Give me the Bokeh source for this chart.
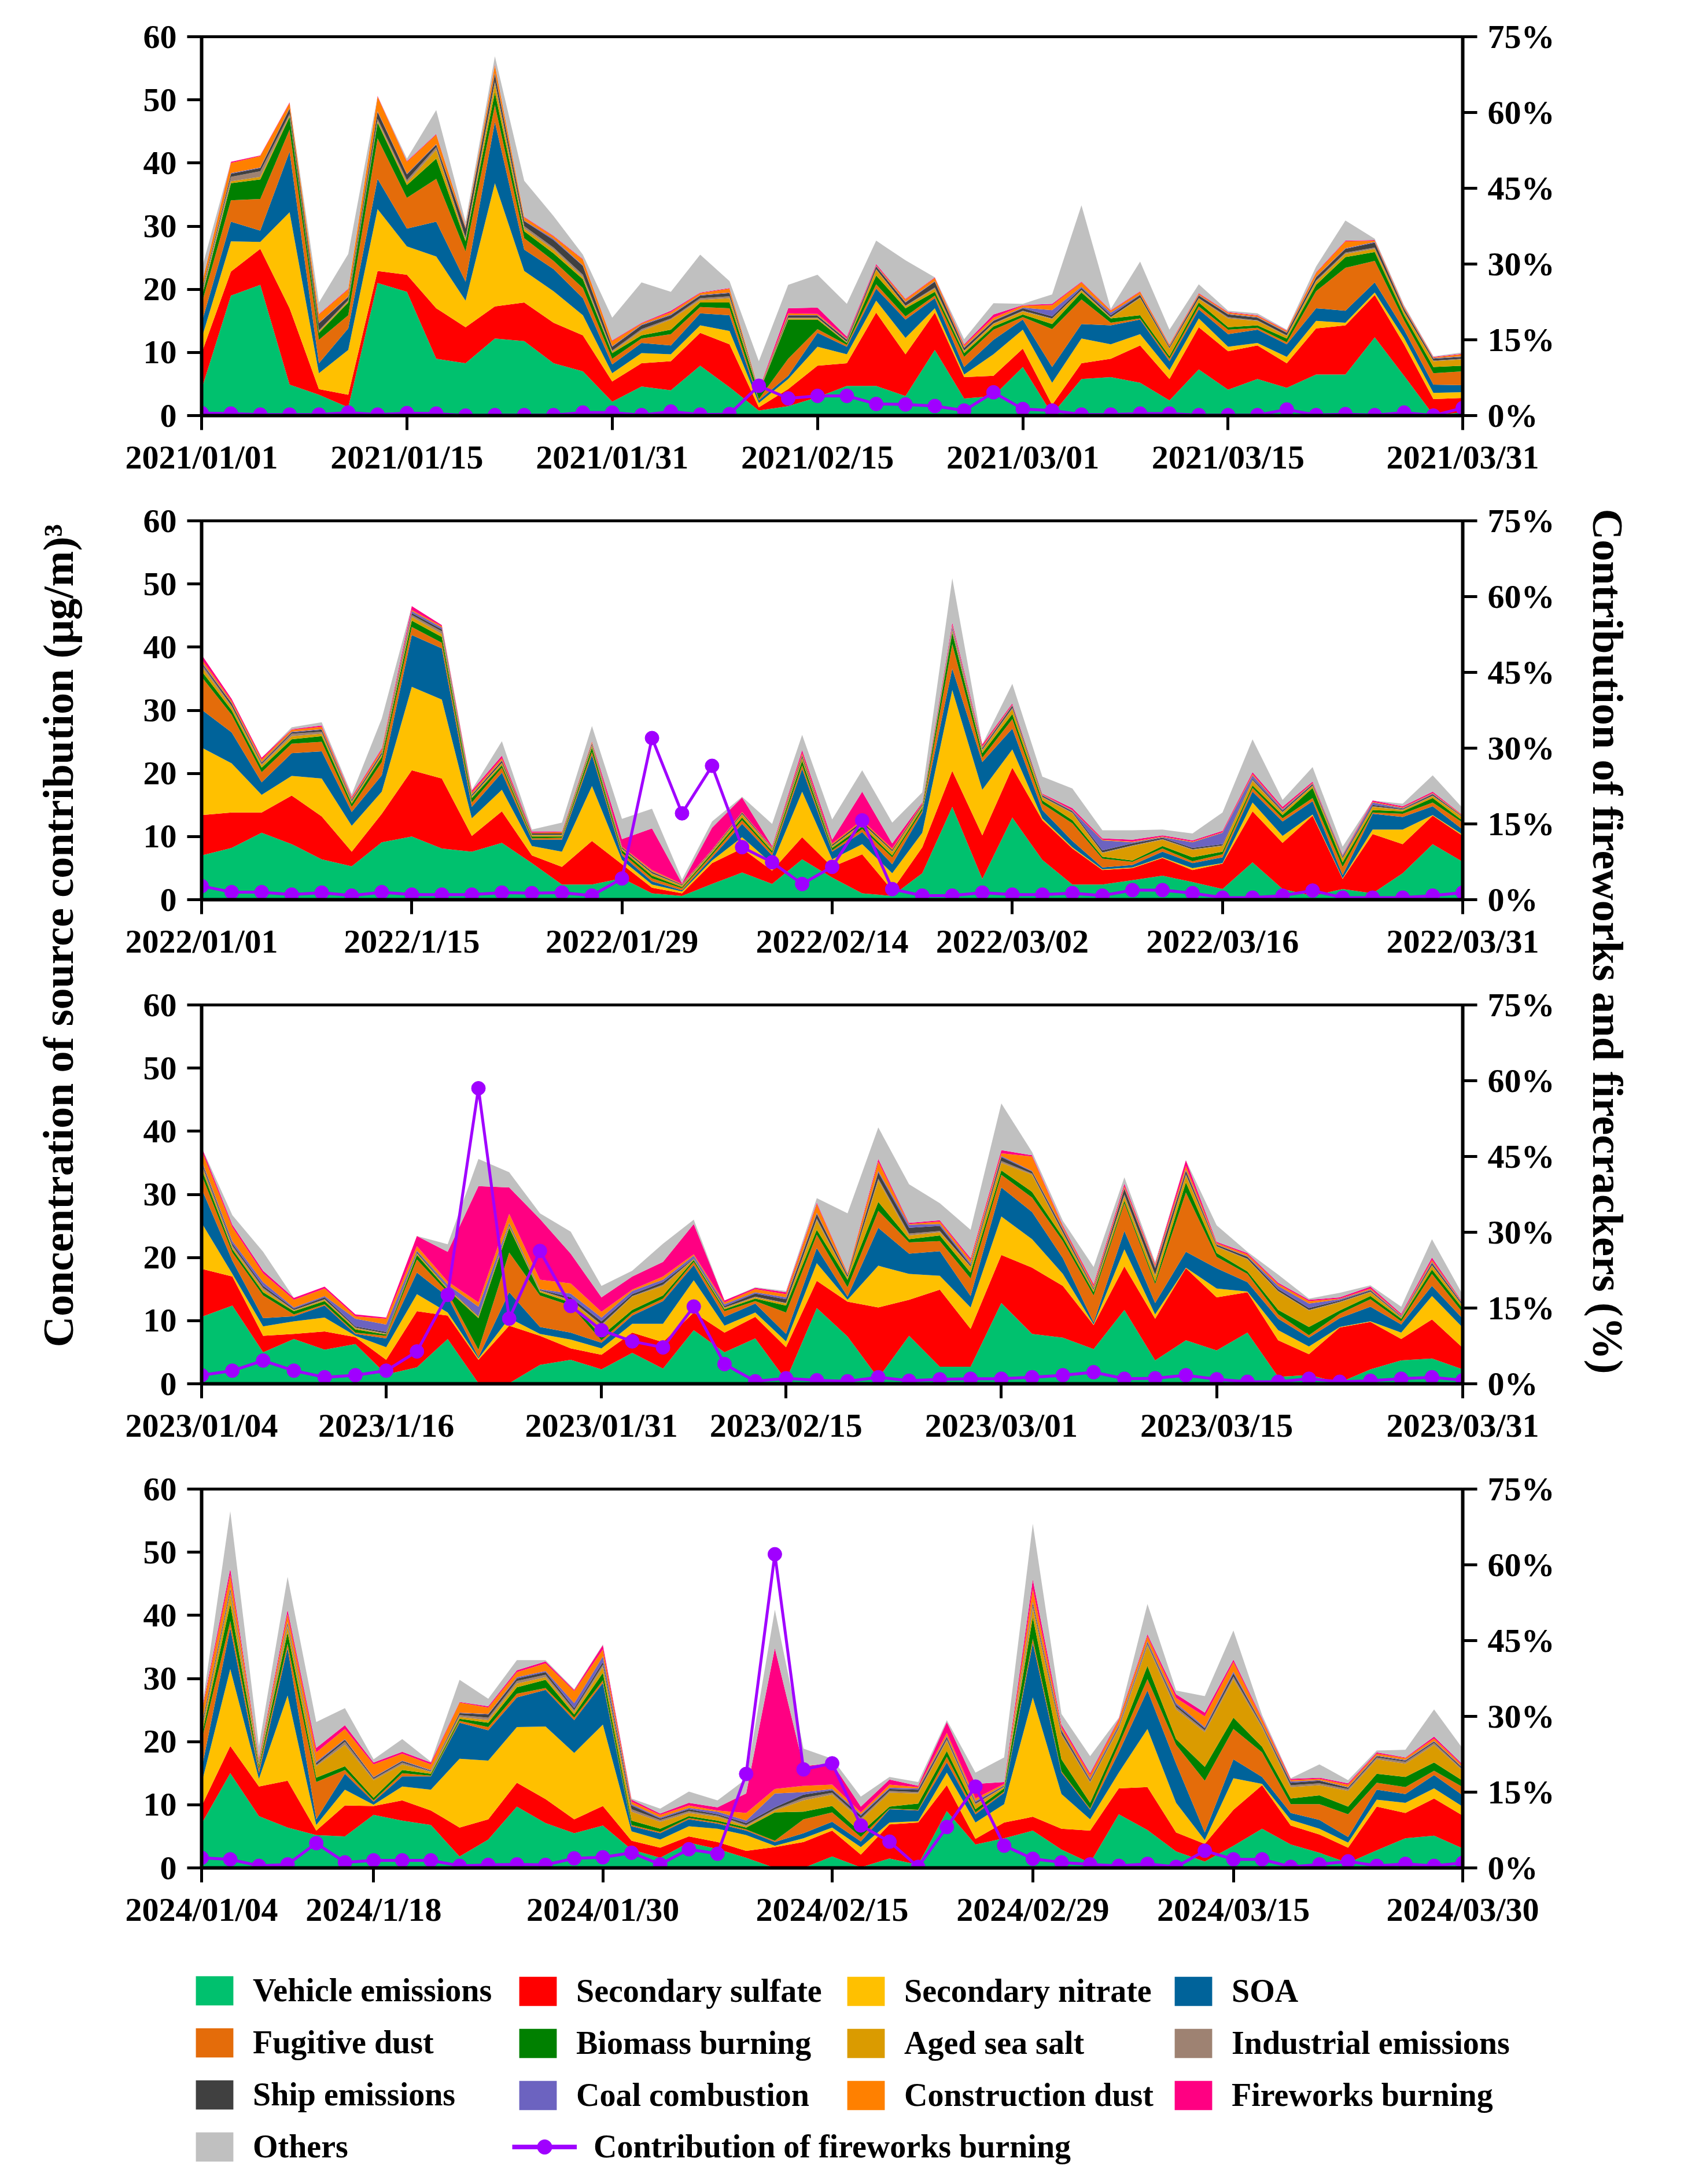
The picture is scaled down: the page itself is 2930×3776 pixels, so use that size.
import math
from bokeh.plotting import figure
from bokeh.models import ColumnDataSource, Range1d, LinearAxis, FixedTicker, Legend, LegendItem
from bokeh.layouts import row, column
from bokeh.embed import file_html
from bokeh.resources import INLINE
from bokeh.core.properties import value

# ---------------- names / colours ----------------
source_names = ["Vehicle emissions", "Secondary sulfate", "Secondary nitrate", "SOA",
                "Fugitive dust", "Biomass burning", "Aged sea salt", "Industrial emissions",
                "Ship emissions", "Coal combustion", "Construction dust", "Fireworks burning", "Others"]
source_colors = ["#00C16E", "#FF0000", "#FFC000", "#00639A", "#E46C0A", "#008000", "#DA9B00",
                 "#9E8272", "#404040", "#6C63C0", "#FF8000", "#FF0082", "#C0C0C0"]
line_name = "Contribution of fireworks burning"
line_color = "#A000FF"
left_title = "Concentration of source contribution (\u03bcg/m)\u00b3"
right_title = "Contribution of fireworks and firecrackers (%)"

# ---------------- 2021 ----------------
veh21 = [4.2, 19.0, 20.7, 4.9, 3.3, 1.3, 21.0, 19.6, 9.0, 8.3, 12.2, 11.8, 8.3, 7.0, 2.2, 4.6, 4.0, 7.9, 4.5, 0.8,
         1.5, 2.9, 4.7, 4.7, 3.1, 10.4, 2.7, 3.1, 7.7, 0.2, 5.8, 6.1, 5.2, 2.4, 7.3, 4.1, 5.8, 4.4, 6.5, 6.5,
         12.4, 6.3, 0.1, 0.5]
sul21 = [5.7, 3.8, 5.7, 12.1, 0.9, 2.0, 1.9, 2.7, 8.0, 5.7, 5.1, 6.1, 6.4, 5.7, 3.2, 3.7, 4.6, 5.2, 6.8, 0.5,
         2.7, 5.0, 3.6, 11.6, 6.6, 5.9, 3.4, 3.2, 2.9, 1.5, 2.5, 2.9, 5.9, 3.4, 6.7, 6.1, 5.3, 3.9, 7.3, 7.8,
         6.7, 5.0, 2.5, 2.3]
nit21 = [2.3, 4.8, 1.1, 15.2, 2.5, 7.1, 9.8, 4.5, 8.2, 4.2, 19.5, 5.0, 5.0, 3.2, 1.3, 1.6, 1.1, 1.2, 2.1, 0.7,
         1.6, 3.0, 1.4, 1.9, 2.6, 0.7, 0.4, 3.4, 3.0, 3.5, 3.9, 2.3, 1.8, 1.4, 1.4, 0.7, 0.4, 1.0, 1.2, 0.4,
         0.4, 1.0, 1.0, 0.9]
soa21 = [2.5, 3.1, 1.8, 9.6, 1.6, 3.4, 4.8, 2.8, 5.5, 3.0, 9.7, 3.4, 3.5, 2.7, 1.4, 1.6, 1.4, 1.9, 2.5, 0.4,
         0.5, 2.2, 1.2, 1.9, 2.9, 1.6, 1.2, 2.3, 1.6, 2.5, 2.3, 3.0, 2.3, 1.4, 1.4, 2.0, 2.1, 2.0, 2.0, 1.9,
         1.6, 1.3, 1.3, 1.1]
fug21 = [3.0, 3.4, 5.0, 3.5, 3.7, 2.1, 6.4, 4.9, 6.8, 4.8, 2.7, 1.8, 1.3, 1.6, 0.9, 0.7, 1.8, 1.0, 1.1, 0.2,
         2.7, 0.6, 0.3, 0.7, 0.5, 0.4, 1.6, 1.6, 0.4, 6.0, 3.9, 0.4, 0.2, 0.4, 0.5, 0.7, 0.3, 0.3, 2.7, 6.8,
         3.4, 1.5, 1.8, 2.2]
bio21 = [1.0, 2.7, 3.1, 2.0, 1.1, 2.0, 2.5, 2.0, 3.2, 1.6, 2.0, 1.1, 1.2, 1.4, 0.9, 0.5, 0.7, 0.7, 0.9, 1.0,
         6.2, 1.5, 0.3, 1.4, 1.3, 0.6, 0.6, 0.5, 0.4, 0.8, 1.1, 0.7, 0.5, 0.4, 0.6, 0.4, 0.4, 0.6, 1.0, 1.7,
         1.4, 0.8, 1.0, 0.9]
sea21 = [0.3, 0.3, 0.4, 0.2, 0.2, 0.2, 0.2, 0.4, 1.4, 0.3, 1.4, 0.4, 0.6, 0.3, 0.2, 0.7, 1.6, 0.4, 0.7, 0.1,
         0.2, 0.2, 0.1, 0.9, 0.3, 0.5, 0.3, 0.4, 0.5, 0.8, 0.3, 0.1, 2.7, 1.2, 0.6, 1.4, 0.7, 0.4, 0.5, 0.5,
         0.5, 0.5, 0.9, 1.0]
ind21 = [0.3, 0.7, 0.9, 0.3, 0.2, 0.2, 0.4, 0.4, 0.4, 0.3, 0.4, 0.4, 0.3, 0.4, 0.2, 0.3, 0.2, 0.3, 0.3, 0.1,
         0.1, 0.1, 0.1, 0.1, 0.1, 0.2, 0.1, 0.1, 0.1, 0.1, 0.1, 0.1, 0.1, 0.1, 0.1, 0.2, 0.1, 0.1, 0.2, 0.2,
         0.2, 0.1, 0.1, 0.1]
shp21 = [0.3, 0.5, 0.5, 0.8, 1.1, 0.5, 1.1, 0.9, 0.4, 1.4, 1.1, 0.8, 1.2, 1.4, 0.6, 0.6, 0.5, 0.4, 0.5, 0.1,
         0.3, 0.3, 0.3, 0.4, 0.5, 0.9, 0.4, 0.4, 0.4, 0.3, 0.3, 0.3, 0.4, 0.2, 0.4, 0.4, 0.4, 0.4, 0.5, 0.6,
         0.8, 0.4, 0.3, 0.3]
coa21 = [0.1, 0.1, 0.1, 0.1, 0.1, 0.1, 0.1, 0.1, 0.1, 0.1, 0.2, 0.1, 0.2, 0.1, 0.1, 0.1, 0.1, 0.1, 0.1, 0.0,
         0.1, 0.1, 0.1, 0.1, 0.1, 0.1, 0.1, 0.1, 0.1, 1.0, 0.2, 0.4, 0.1, 0.1, 0.1, 0.1, 0.1, 0.1, 0.1, 0.1,
         0.1, 0.1, 0.1, 0.1]
con21 = [1.0, 1.6, 1.8, 0.8, 1.3, 1.1, 2.3, 1.9, 1.5, 0.2, 1.2, 0.5, 0.4, 0.9, 0.8, 0.2, 0.4, 0.3, 0.6, 0.1,
         0.3, 0.2, 0.1, 0.1, 0.4, 0.5, 0.3, 0.4, 0.3, 0.8, 0.7, 0.3, 0.4, 0.2, 0.2, 0.2, 0.2, 0.2, 0.6, 1.1,
         0.2, 0.2, 0.1, 0.3]
fwk21 = [0.1, 0.2, 0.1, 0.1, 0.1, 0.1, 0.1, 0.1, 0.1, 0.1, 0.1, 0.1, 0.1, 0.1, 0.1, 0.1, 0.2, 0.1, 0.1, 0.1,
         0.8, 1.0, 0.3, 0.2, 0.1, 0.1, 0.2, 0.5, 0.1, 0.2, 0.1, 0.1, 0.1, 0.1, 0.1, 0.1, 0.1, 0.1, 0.1, 0.1,
         0.1, 0.1, 0.1, 0.1]
oth21 = [2.4, 0.0, 0.0, 0.0, 1.8, 5.5, 0.0, 0.4, 3.8, 0.7, 1.3, 5.7, 3.1, 0.7, 3.6, 6.4, 3.0, 6.0, 1.1, 4.5,
         3.7, 5.2, 5.2, 3.7, 6.1, 0.0, 0.8, 1.8, 0.2, 1.5, 12.1, 0.2, 4.7, 2.3, 1.4, 0.2, 0.3, 0.1, 0.9, 3.2,
         0.2, 0.2, 0.1, 0.2]
pct21 = [0.5, 0.4, 0.2, 0.2, 0.2, 0.6, 0.2, 0.5, 0.4, 0.0, 0.1, 0.1, 0.1, 0.6, 0.6, 0.1, 0.8, 0.2, 0.3, 5.9,
         3.4, 3.9, 3.9, 2.3, 2.2, 1.9, 1.0, 4.6, 1.3, 1.0, 0.2, 0.2, 0.4, 0.4, 0.1, 0.1, 0.1, 1.2, 0.1, 0.3,
         0.1, 0.6, 0.0, 1.5]
ticks21 = [0, 7, 14, 21, 28, 35, 43]
labels21 = ["2021/01/01", "2021/01/15", "2021/01/31", "2021/02/15", "2021/03/01", "2021/03/15", "2021/03/31"]

# ---------------- 2022 ----------------
veh22 = [7.0, 8.2, 10.6, 8.8, 6.4, 5.3, 9.1, 10.0, 8.1, 7.6, 9.0, 5.8, 2.4, 2.4, 3.4, 1.0, 0.6, 2.5, 4.3, 2.5,
         6.4, 3.5, 1.0, 0.6, 4.2, 14.7, 3.3, 13.0, 6.3, 2.4, 2.4, 3.1, 3.8, 2.8, 1.7, 5.9, 1.7, 0.6, 1.7, 1.0,
         4.2, 8.8, 6.0]
sul22 = [6.4, 5.6, 3.2, 7.7, 6.8, 2.3, 4.5, 10.5, 11.1, 2.5, 5.0, 1.2, 2.8, 6.9, 2.2, 0.9, 0.4, 3.3, 3.8, 2.1,
         3.5, 1.7, 6.2, 0.9, 4.1, 5.7, 6.9, 7.9, 6.3, 5.7, 2.3, 1.9, 2.8, 1.9, 4.0, 8.1, 7.3, 12.7, 1.6, 9.4,
         4.6, 4.5, 4.1]
nit22 = [10.7, 7.8, 2.8, 3.1, 6.0, 4.1, 3.5, 13.2, 12.5, 2.8, 3.4, 1.5, 2.4, 8.7, 0.7, 0.5, 0.3, 0.4, 1.8, 1.1,
         7.2, 1.2, 1.6, 2.7, 2.3, 12.8, 7.2, 2.9, 0.3, 0.2, 0.1, 0.1, 0.1, 0.3, 0.1, 1.4, 1.1, 0.2, 0.1, 0.7,
         2.3, 0.1, 0.2]
soa22 = [6.0, 4.9, 2.0, 3.6, 4.3, 2.2, 2.6, 8.2, 8.1, 1.8, 2.7, 1.0, 1.9, 4.9, 0.7, 0.5, 0.2, 0.5, 2.1, 1.3,
         3.6, 1.2, 1.9, 1.4, 3.2, 3.4, 4.4, 3.3, 1.3, 1.0, 0.3, 0.4, 0.9, 0.8, 0.9, 1.7, 2.3, 2.1, 0.5, 2.5,
         2.0, 1.4, 0.8]
fug22 = [5.2, 2.8, 1.6, 1.5, 1.5, 0.8, 2.1, 1.3, 0.9, 0.7, 0.8, 0.2, 0.3, 0.5, 0.4, 0.5, 0.3, 0.4, 0.6, 0.4,
         0.6, 0.2, 0.5, 1.1, 0.3, 3.9, 0.7, 1.5, 1.0, 2.8, 1.4, 0.5, 0.5, 0.3, 0.5, 0.6, 0.5, 0.5, 1.3, 0.2,
         0.5, 0.6, 1.1]
bio22 = [0.9, 0.7, 0.7, 0.7, 0.9, 0.5, 0.8, 1.0, 0.9, 0.7, 0.4, 0.3, 0.2, 0.7, 0.4, 0.4, 0.2, 0.3, 0.4, 0.3,
         0.7, 0.4, 0.4, 0.3, 0.4, 1.8, 0.7, 0.8, 0.5, 0.5, 0.3, 0.2, 0.4, 0.6, 0.4, 0.4, 0.5, 1.6, 0.7, 0.4,
         0.4, 0.7, 0.3]
sea22 = [0.7, 0.5, 0.4, 0.5, 0.4, 0.3, 0.3, 0.6, 0.5, 0.2, 0.3, 0.2, 0.2, 0.3, 0.2, 0.3, 0.2, 0.2, 0.5, 0.3,
         0.4, 0.2, 0.4, 0.6, 0.3, 0.3, 0.4, 0.8, 0.5, 1.1, 0.6, 2.3, 1.0, 1.2, 0.9, 0.7, 0.4, 0.3, 0.6, 0.5,
         0.2, 0.3, 0.5]
ind22 = [0.4, 0.2, 0.2, 0.4, 0.3, 0.1, 0.1, 0.3, 0.4, 0.1, 0.1, 0.1, 0.1, 0.1, 0.1, 0.1, 0.1, 0.1, 0.1, 0.1,
         0.1, 0.1, 0.1, 0.1, 0.1, 0.2, 0.2, 0.2, 0.1, 0.1, 0.1, 0.1, 0.1, 0.1, 0.1, 0.2, 0.1, 0.1, 0.1, 0.1,
         0.1, 0.1, 0.1]
shp22 = [0.2, 0.4, 0.2, 0.2, 0.3, 0.2, 0.3, 0.3, 0.3, 0.2, 0.3, 0.2, 0.2, 0.2, 0.2, 0.2, 0.1, 0.1, 0.2, 0.1,
         0.3, 0.2, 0.3, 0.2, 0.2, 0.2, 0.2, 0.3, 0.2, 0.2, 0.3, 0.3, 0.2, 0.2, 0.2, 0.2, 0.2, 0.2, 0.2, 0.2,
         0.1, 0.2, 0.1]
coa22 = [0.2, 0.1, 0.1, 0.1, 0.1, 0.1, 0.1, 0.3, 0.3, 0.1, 0.1, 0.0, 0.0, 0.1, 0.0, 0.1, 0.0, 0.0, 0.0, 0.0,
         0.1, 0.0, 0.0, 0.0, 0.0, 0.3, 0.1, 0.1, 0.1, 0.1, 1.6, 0.2, 0.1, 0.9, 1.8, 0.5, 0.2, 0.1, 0.2, 0.4,
         0.1, 0.1, 0.0]
con22 = [0.4, 0.3, 0.4, 0.3, 0.4, 0.2, 0.4, 0.2, 0.2, 0.3, 0.3, 0.1, 0.2, 0.2, 0.1, 0.2, 0.1, 0.1, 0.1, 0.1,
         0.3, 0.2, 0.2, 0.2, 0.1, 0.2, 0.2, 0.1, 0.1, 0.1, 0.1, 0.1, 0.1, 0.1, 0.1, 0.2, 0.1, 0.1, 0.1, 0.1,
         0.1, 0.1, 0.1]
fwk22 = [0.7, 0.3, 0.3, 0.1, 0.2, 0.2, 0.2, 0.6, 0.2, 0.3, 0.4, 0.2, 0.1, 0.1, 1.2, 6.6, 0.1, 3.5, 2.3, 0.2,
         0.5, 0.6, 4.5, 0.8, 0.2, 0.4, 0.3, 0.2, 0.1, 0.3, 0.2, 0.3, 0.2, 0.2, 0.2, 0.3, 0.3, 0.2, 0.1, 0.2,
         0.2, 0.2, 0.1]
oth22 = [0.0, 0.0, 0.0, 0.3, 0.5, 0.4, 4.7, 0.0, 0.0, 0.1, 2.3, 0.3, 1.4, 2.4, 3.2, 3.1, 0.6, 1.0, 0.1, 3.5,
         2.4, 3.2, 3.4, 3.3, 1.6, 7.0, 0.0, 3.1, 2.7, 3.1, 1.3, 1.5, 0.9, 1.1, 2.9, 5.2, 1.1, 2.3, 1.2, 0.0,
         0.4, 2.6, 1.1]
pct22 = [2.7, 1.5, 1.5, 1.0, 1.4, 0.8, 1.5, 1.0, 1.0, 1.0, 1.4, 1.3, 1.4, 0.8, 4.2, 32.0, 17.1, 26.5, 10.4, 7.4,
         3.1, 6.5, 15.7, 2.1, 0.8, 0.8, 1.4, 1.0, 1.0, 1.3, 0.8, 1.9, 1.9, 1.3, 0.4, 0.4, 0.8, 1.8, 0.4, 0.4,
         0.4, 0.8, 1.4]
ticks22 = [0, 7, 14, 21, 27, 34, 42]
labels22 = ["2022/01/01", "2022/1/15", "2022/01/29", "2022/02/14", "2022/03/02", "2022/03/16", "2022/03/31"]

# ---------------- 2023 ----------------
veh23 = [10.6, 12.4, 5.0, 7.1, 5.4, 6.3, 1.5, 2.6, 7.1, 0.1, 0.1, 3.0, 3.8, 2.3, 4.9, 2.4, 8.5, 5.0, 7.2, 0.6,
         12.0, 7.5, 0.9, 7.6, 2.7, 2.7, 12.8, 7.9, 7.3, 5.5, 11.7, 3.7, 6.9, 5.3, 8.1, 1.1, 1.4, 0.2, 2.3, 3.7,
         4.0, 2.3]
sul23 = [7.6, 4.6, 2.6, 0.8, 2.9, 1.1, 2.3, 8.9, 3.7, 3.7, 9.1, 4.6, 1.8, 2.3, 3.2, 4.2, 2.8, 3.1, 3.4, 5.2,
         4.3, 5.5, 11.2, 5.7, 12.2, 6.0, 7.6, 10.5, 8.2, 3.8, 6.9, 6.6, 11.4, 8.4, 6.4, 5.8, 3.3, 8.7, 7.5, 3.4,
         6.2, 3.4]
nit23 = [7.3, 0.4, 1.5, 2.0, 2.2, 0.2, 2.0, 2.7, 0.5, 0.2, 1.2, 0.3, 1.4, 1.0, 1.4, 2.9, 5.1, 1.1, 0.7, 0.9,
         2.8, 0.3, 6.6, 4.1, 2.2, 3.4, 6.1, 4.5, 1.9, 0.1, 2.7, 0.7, 0.1, 1.4, 0.1, 1.6, 1.2, 0.1, 0.1, 1.0,
         3.7, 3.2]
soa23 = [5.4, 2.1, 1.3, 0.8, 1.9, 0.3, 1.4, 3.4, 2.5, 0.2, 4.1, 1.1, 1.1, 0.9, 1.3, 3.6, 2.4, 1.4, 1.4, 1.2,
         2.4, 0.5, 6.0, 3.2, 3.9, 1.8, 4.6, 4.3, 2.5, 0.3, 2.9, 1.8, 2.5, 3.2, 1.5, 1.8, 1.4, 1.4, 2.3, 1.3,
         1.6, 1.4]
fug23 = [2.2, 1.3, 3.6, 0.3, 0.2, 0.2, 0.4, 2.1, 0.7, 1.2, 6.3, 5.0, 4.3, 0.4, 0.4, 0.4, 0.5, 0.9, 0.4, 3.4,
         2.1, 1.5, 2.7, 1.8, 1.6, 2.8, 2.0, 2.3, 2.7, 4.3, 4.4, 3.0, 9.4, 1.8, 1.3, 0.7, 0.4, 0.7, 1.2, 0.5,
         1.9, 1.0]
bio23 = [0.9, 0.5, 0.5, 0.5, 0.5, 0.5, 0.2, 0.7, 0.4, 5.0, 3.9, 0.5, 0.5, 0.7, 0.5, 0.5, 0.3, 0.3, 0.4, 1.1,
         0.8, 1.2, 1.4, 0.5, 0.9, 0.9, 0.7, 0.9, 0.6, 0.5, 0.4, 0.4, 1.6, 0.6, 0.4, 0.7, 1.3, 0.5, 0.5, 0.4,
         0.7, 0.6]
sea23 = [0.5, 0.3, 0.4, 0.1, 0.2, 0.2, 0.1, 0.2, 0.2, 0.2, 0.3, 0.2, 0.3, 1.6, 2.1, 1.5, 0.1, 0.2, 0.2, 0.3,
         1.5, 0.3, 3.4, 0.6, 0.5, 0.9, 1.2, 2.7, 0.6, 0.3, 0.7, 0.9, 1.1, 1.0, 1.9, 2.9, 2.6, 1.3, 0.6, 0.2,
         0.6, 0.4]
ind23 = [0.4, 0.3, 0.3, 0.1, 0.1, 0.1, 0.1, 0.1, 0.1, 0.1, 0.1, 0.1, 0.1, 0.2, 0.1, 0.2, 0.1, 0.1, 0.1, 0.1,
         0.3, 0.1, 0.3, 0.3, 0.2, 0.1, 0.3, 0.2, 0.2, 0.1, 0.3, 0.2, 0.2, 0.1, 0.1, 0.1, 0.1, 0.1, 0.1, 0.1,
         0.1, 0.1]
shp23 = [0.3, 0.3, 0.3, 0.2, 0.3, 0.2, 0.2, 0.2, 0.1, 0.1, 0.2, 0.1, 0.4, 0.5, 0.3, 0.4, 0.1, 0.2, 0.5, 0.6,
         0.7, 0.3, 1.0, 0.9, 0.8, 0.2, 0.6, 0.3, 0.4, 0.2, 0.9, 1.0, 0.5, 0.2, 0.3, 0.3, 0.3, 0.2, 0.2, 0.1,
         0.3, 0.2]
coa23 = [0.2, 0.4, 0.6, 0.2, 0.2, 1.2, 1.2, 0.2, 0.4, 1.4, 0.2, 0.1, 0.6, 0.6, 0.5, 0.4, 0.4, 0.3, 0.2, 0.3,
         0.2, 0.1, 0.2, 0.5, 0.3, 0.3, 0.2, 0.1, 0.2, 0.1, 0.1, 0.2, 0.2, 0.1, 0.1, 0.5, 0.7, 0.2, 0.1, 0.1,
         0.2, 0.1]
con23 = [1.6, 2.2, 1.4, 1.2, 1.2, 0.4, 0.9, 0.7, 0.5, 0.7, 1.4, 1.5, 1.6, 0.9, 0.2, 0.5, 0.2, 0.3, 0.5, 0.5,
         1.4, 0.2, 1.5, 0.1, 0.4, 0.5, 0.4, 2.3, 0.3, 0.3, 0.3, 0.3, 0.6, 0.2, 0.3, 0.3, 0.4, 0.1, 0.2, 0.1,
         0.3, 0.1]
fwk23 = [0.5, 0.4, 0.4, 0.3, 0.3, 0.3, 0.2, 1.6, 4.7, 18.4, 4.2, 9.6, 4.7, 2.3, 2.1, 2.3, 4.8, 0.3, 0.2, 0.3,
         0.2, 0.1, 0.4, 0.2, 0.2, 0.3, 0.5, 0.2, 0.2, 0.3, 0.4, 0.2, 0.9, 0.2, 0.2, 0.2, 0.2, 0.2, 0.3, 0.2,
         0.4, 0.1]
oth23 = [0.0, 1.5, 3.0, 0.0, 0.0, 0.0, 0.0, 0.0, 1.2, 4.3, 2.4, 0.9, 3.5, 1.8, 0.9, 2.9, 0.7, 0.0, 0.1, 0.2,
         0.7, 9.4, 5.0, 6.1, 2.7, 4.5, 7.4, 0.5, 0.7, 2.7, 1.0, 0.3, 0.0, 2.6, 0.2, 1.3, 0.2, 0.7, 0.2, 1.1,
         2.9, 1.2]
pct23 = [1.7, 2.6, 4.6, 2.6, 1.3, 1.7, 2.6, 6.4, 17.6, 58.5, 12.9, 26.3, 15.4, 10.6, 8.4, 7.2, 15.3, 3.9, 0.5, 1.1,
         0.7, 0.5, 1.3, 0.6, 0.9, 1.0, 1.0, 1.3, 1.7, 2.3, 1.0, 1.1, 1.7, 0.9, 0.4, 0.4, 1.0, 0.4, 0.6, 1.0,
         1.3, 0.7]
ticks23 = [0, 6, 13, 19, 26, 33, 41]
labels23 = ["2023/01/04", "2023/1/16", "2023/01/31", "2023/02/15", "2023/03/01", "2023/03/15", "2023/03/31"]

# ---------------- 2024 ----------------
veh24 = [7.0, 15.0, 8.2, 6.4, 5.2, 5.0, 8.4, 7.5, 6.8, 1.8, 4.5, 9.7, 7.1, 5.5, 6.7, 2.9, 1.6, 4.0, 3.0, 1.6,
         0.0, 0.0, 1.8, 0.1, 1.5, 0.5, 9.0, 3.7, 4.7, 5.9, 2.9, 0.8, 8.5, 6.0, 2.6, 1.0, 3.5, 6.2, 3.7, 2.4,
         0.8, 2.8, 4.7, 5.1, 3.1]
sul24 = [2.8, 4.3, 4.7, 7.4, 0.7, 4.9, 1.4, 3.2, 2.3, 4.6, 3.2, 3.8, 3.8, 2.2, 3.1, 1.4, 1.6, 1.0, 1.1, 1.1,
         3.3, 4.1, 4.1, 2.0, 5.4, 6.7, 4.1, 0.9, 2.5, 2.2, 3.3, 5.1, 4.1, 6.8, 3.0, 2.8, 5.7, 6.9, 3.0, 2.9,
         2.4, 6.9, 4.0, 5.9, 5.2]
nit24 = [3.6, 12.2, 1.2, 13.5, 0.9, 2.5, 0.2, 2.2, 3.3, 10.9, 9.3, 8.8, 11.5, 10.5, 12.9, 1.5, 1.3, 1.6, 2.1, 2.5,
         0.2, 0.6, 0.5, 1.2, 0.3, 0.2, 2.0, 2.6, 2.9, 18.9, 5.5, 1.8, 2.5, 9.2, 4.7, 0.6, 5.0, 0.2, 0.9, 0.9,
         0.8, 1.1, 1.6, 1.6, 1.4]
soa24 = [2.3, 6.5, 0.9, 7.5, 0.9, 2.5, 0.5, 1.6, 2.1, 5.7, 4.8, 4.7, 5.8, 5.2, 6.6, 0.8, 1.0, 1.1, 0.8, 0.7,
         0.6, 0.8, 0.9, 0.9, 2.1, 1.7, 1.6, 1.3, 1.8, 8.6, 3.4, 1.5, 3.2, 6.1, 6.2, 1.2, 3.0, 1.1, 1.1, 1.4,
         0.9, 1.6, 1.4, 2.1, 1.8]
fug24 = [4.5, 1.1, 0.7, 0.7, 5.9, 0.6, 0.2, 0.5, 0.1, 0.3, 0.5, 0.6, 0.3, 0.4, 0.4, 0.2, 0.2, 0.2, 0.2, 0.2,
         0.2, 2.2, 1.5, 0.7, 0.1, 0.1, 0.9, 0.3, 0.2, 0.7, 0.2, 0.2, 1.2, 1.8, 3.0, 8.2, 4.8, 3.9, 1.4, 2.5,
         3.6, 1.1, 1.1, 0.7, 1.3]
bio24 = [0.7, 2.7, 0.4, 1.8, 0.7, 0.6, 0.4, 0.5, 0.3, 0.3, 0.7, 1.0, 1.3, 0.5, 1.2, 0.7, 0.5, 0.3, 0.3, 0.3,
         4.5, 1.2, 1.0, 0.7, 0.3, 1.0, 0.9, 0.5, 0.5, 3.4, 1.9, 0.9, 0.9, 2.1, 0.9, 2.2, 1.8, 0.9, 0.9, 1.4,
         1.2, 1.4, 1.6, 1.3, 1.0]
sea24 = [0.8, 1.6, 0.4, 0.9, 1.8, 3.4, 2.8, 0.9, 0.3, 0.3, 0.4, 0.6, 0.4, 0.4, 0.9, 1.4, 1.1, 0.5, 0.6, 0.2,
         0.3, 1.8, 1.8, 2.0, 2.2, 1.6, 1.6, 0.7, 0.2, 1.4, 3.8, 3.2, 1.6, 3.2, 4.7, 5.5, 6.1, 3.0, 1.8, 1.6,
         2.5, 2.3, 2.1, 2.8, 1.6]
ind24 = [0.3, 0.4, 0.2, 0.3, 0.2, 0.5, 0.2, 0.3, 0.1, 0.3, 0.4, 0.4, 0.4, 0.3, 0.4, 0.4, 0.3, 0.3, 0.2, 0.2,
         0.2, 0.4, 0.3, 0.3, 0.3, 0.2, 0.3, 0.2, 0.1, 0.4, 0.3, 0.2, 0.3, 0.3, 0.4, 0.3, 0.4, 0.3, 0.3, 0.3,
         0.3, 0.3, 0.3, 0.3, 0.2]
shp24 = [0.5, 0.4, 0.2, 0.3, 0.3, 0.3, 0.2, 0.2, 0.1, 0.3, 0.5, 0.4, 0.4, 0.3, 0.4, 0.6, 0.2, 0.3, 0.2, 0.3,
         0.3, 0.5, 0.4, 0.4, 0.3, 0.4, 0.3, 0.2, 0.1, 0.4, 0.4, 0.2, 0.2, 0.2, 0.3, 0.3, 0.5, 0.2, 0.4, 0.4,
         0.2, 0.2, 0.2, 0.2, 0.2]
coa24 = [0.2, 0.2, 0.1, 0.2, 0.2, 0.1, 0.1, 0.1, 0.1, 0.1, 0.1, 0.2, 0.2, 0.8, 0.9, 0.2, 0.2, 0.2, 0.4, 0.4,
         2.2, 0.4, 0.2, 0.2, 0.2, 0.2, 0.2, 0.2, 0.1, 0.3, 0.2, 0.2, 0.2, 0.2, 0.3, 0.2, 0.3, 0.1, 0.2, 0.1,
         0.1, 0.1, 0.1, 0.1, 0.1]
con24 = [1.9, 2.0, 0.3, 1.2, 1.5, 1.6, 2.0, 1.1, 0.9, 1.6, 1.0, 0.8, 1.2, 1.9, 1.1, 0.4, 0.4, 0.4, 0.2, 1.2,
         0.7, 1.0, 0.7, 0.3, 0.5, 0.2, 0.5, 0.4, 0.2, 2.0, 0.4, 0.6, 0.7, 0.8, 0.8, 1.7, 1.5, 0.7, 0.2, 0.2,
         0.4, 0.3, 0.3, 0.4, 0.3]
fwk24 = [0.3, 1.0, 0.2, 0.7, 0.7, 0.6, 0.3, 0.3, 0.3, 0.1, 0.2, 0.3, 0.3, 0.2, 0.7, 0.3, 0.2, 0.4, 0.5, 3.1,
         22.3, 3.1, 3.4, 0.9, 0.8, 0.2, 1.7, 2.3, 0.3, 1.5, 0.4, 0.3, 0.2, 0.3, 0.6, 0.6, 0.4, 0.2, 0.2, 0.2,
         0.2, 0.2, 0.1, 0.3, 0.2]
oth24 = [0.0, 9.1, 1.8, 5.2, 4.1, 2.7, 0.5, 2.0, 0.1, 3.5, 1.2, 1.6, 0.2, 0.1, 0.1, 0.2, 0.8, 1.8, 1.1, 2.3,
         6.1, 2.8, 0.7, 1.6, 0.4, 0.6, 0.3, 1.8, 3.9, 8.8, 1.7, 2.7, 0.2, 4.8, 0.6, 2.6, 4.6, 0.5, 0.1, 2.1,
         0.5, 0.3, 1.2, 4.3, 2.5]
pct24 = [2.0, 1.7, 0.4, 0.7, 4.9, 1.1, 1.5, 1.5, 1.5, 0.4, 0.6, 0.7, 0.6, 1.9, 2.1, 3.0, 0.7, 3.7, 2.8, 18.6,
         62.1, 19.5, 20.7, 8.4, 5.2, 0.2, 8.1, 16.1, 4.4, 1.8, 1.1, 0.7, 0.4, 0.8, 0.2, 3.4, 1.7, 1.7, 0.2, 0.7,
         1.3, 0.4, 0.8, 0.4, 1.0]
ticks24 = [0, 6, 14, 22, 29, 36, 44]
labels24 = ["2024/01/04", "2024/1/18", "2024/01/30", "2024/02/15", "2024/02/29", "2024/03/15", "2024/03/30"]

conc_ticks = [0, 10, 20, 30, 40, 50, 60]
pct_ticks = [0, 15, 30, 45, 60, 75]

panels = [
    ([veh21, sul21, nit21, soa21, fug21, bio21, sea21, ind21, shp21, coa21, con21, fwk21, oth21], pct21, ticks21, labels21),
    ([veh22, sul22, nit22, soa22, fug22, bio22, sea22, ind22, shp22, coa22, con22, fwk22, oth22], pct22, ticks22, labels22),
    ([veh23, sul23, nit23, soa23, fug23, bio23, sea23, ind23, shp23, coa23, con23, fwk23, oth23], pct23, ticks23, labels23),
    ([veh24, sul24, nit24, soa24, fug24, bio24, sea24, ind24, shp24, coa24, con24, fwk24, oth24], pct24, ticks24, labels24),
]

FONT = "Liberation Serif"
TICK_SIZE = "58px"


def style_axis(ax):
    ax.axis_line_color = "black"
    ax.axis_line_width = 6
    ax.major_tick_line_color = "black"
    ax.major_tick_line_width = 5
    ax.major_tick_out = 25
    ax.major_tick_in = 0
    ax.minor_tick_out = 0
    ax.minor_tick_in = 0
    ax.major_label_text_font = FONT
    ax.major_label_text_font_style = "bold"
    ax.major_label_text_font_size = TICK_SIZE
    ax.major_label_text_color = "black"


def make_panel(series, pct, ticks, labels, top):
    n = len(pct)
    for s in series:
        assert len(s) == n, (len(s), n)
    keys = ["s%d" % k for k in range(len(series))]
    data = {"x": list(range(n)), "pct": pct}
    for k, s in zip(keys, series):
        data[k] = s
    src = ColumnDataSource(data)
    p = figure(frame_width=2180, frame_height=655, min_border_left=148, min_border_right=172,
               min_border_top=top, min_border_bottom=142,
               x_range=Range1d(0, n - 1), y_range=Range1d(0, 60),
               output_backend="svg", toolbar_location=None, tools="")
    p.extra_y_ranges = {"pct": Range1d(0, 75)}
    p.varea_stack(stackers=keys, x="x", fill_color=source_colors, source=src)
    p.line("x", "pct", source=src, y_range_name="pct", line_color=line_color, line_width=5)
    p.scatter("x", "pct", source=src, y_range_name="pct", marker="circle", size=24,
              fill_color=line_color, line_color=line_color)
    p.xgrid.visible = False
    p.ygrid.visible = False
    p.outline_line_color = "black"
    p.outline_line_width = 5
    p.background_fill_color = "white"
    p.xaxis.ticker = FixedTicker(ticks=ticks)
    p.xaxis.major_label_overrides = {t: l for t, l in zip(ticks, labels)}
    p.xaxis.major_label_standoff = 14
    p.yaxis.ticker = FixedTicker(ticks=conc_ticks)
    p.yaxis.major_label_standoff = 18
    right = LinearAxis(y_range_name="pct", ticker=FixedTicker(ticks=pct_ticks),
                       major_label_overrides={t: "%d%%" % t for t in pct_ticks})
    right.major_label_standoff = 18
    p.add_layout(right, "right")
    for ax in p.axis:
        style_axis(ax)
    return p


figs = []
for i, (series, pct, ticks, labels) in enumerate(panels):
    figs.append(make_panel(series, pct, ticks, labels, 63 if i == 0 else 40))

# ---------------- legend figure ----------------
LEG_H = 375
leg = figure(width=2500, height=LEG_H, x_range=Range1d(0, 1), y_range=Range1d(0, 1),
             output_backend="svg", toolbar_location=None, tools="", min_border=0,
             x_axis_type=None, y_axis_type=None, outline_line_color=None)
leg.frame_align = False
leg.grid.visible = False
# legend-only renderers (placed below the visible range, nothing drawn in the frame)
area_r = [leg.varea(x=[0, 1], y1=[-5, -5], y2=[-5, -5], fill_color=c) for c in source_colors]
lr = leg.line(x=[0, 1], y=[-5, -5], line_color=line_color, line_width=8)
sr = leg.scatter(x=[0.5], y=[-5], marker="circle", size=20, fill_color=line_color, line_color=line_color)

GW, GH, SP = 81, 63, 26
LEG_FONT = "56px"


def add_legend(items, x_left, first_row, glyph_w=GW, standoff=26):
    nrow = len(items)
    top_offset = 42 + first_row * (GH + SP)
    h = nrow * GH + (nrow - 1) * SP
    y_bottom = LEG_H - top_offset - h
    lg = Legend(items=items, location=(x_left, y_bottom), orientation="vertical",
                glyph_width=glyph_w, glyph_height=GH, label_height=GH, label_standoff=standoff,
                spacing=SP, padding=0, margin=0, border_line_color=None, background_fill_alpha=0,
                label_text_font=FONT, label_text_font_style="bold", label_text_font_size=LEG_FONT,
                label_text_color="black")
    leg.add_layout(lg)


col_members = [[0, 4, 8, 12], [1, 5, 9], [2, 6, 10], [3, 7, 11]]
col_x = [130, 689, 1256, 1822]
for cx, members in zip(col_x, col_members):
    add_legend([LegendItem(label=source_names[m], renderers=[area_r[m]]) for m in members], cx, 0)
add_legend([LegendItem(label=line_name, renderers=[lr, sr])], 685, 3, glyph_w=112, standoff=29)

# ---------------- title figures ----------------
TOTAL_H = 860 + 837 * 3 + LEG_H


def title_fig(text, x, y, angle):
    t = figure(width=200, height=TOTAL_H, x_range=Range1d(0, 200), y_range=Range1d(0, TOTAL_H),
               output_backend="svg", toolbar_location=None, tools="", min_border=0,
               x_axis_type=None, y_axis_type=None, outline_line_color=None)
    t.frame_align = False
    t.grid.visible = False
    t.text(x=[x], y=[y], text=[text], angle=angle, text_align="center", text_baseline="middle",
           text_font=value(FONT), text_font_style="bold", text_font_size=value("74px"),
           text_color="black")
    return t


lt = title_fig(left_title, 100, TOTAL_H - (1625 - 8), math.pi / 2)
rt = title_fig(right_title, 78, TOTAL_H - (1635 - 8), -math.pi / 2)

layout = row(lt, column(*figs, leg), rt)
open("out.html", "w").write(file_html(layout, INLINE))
